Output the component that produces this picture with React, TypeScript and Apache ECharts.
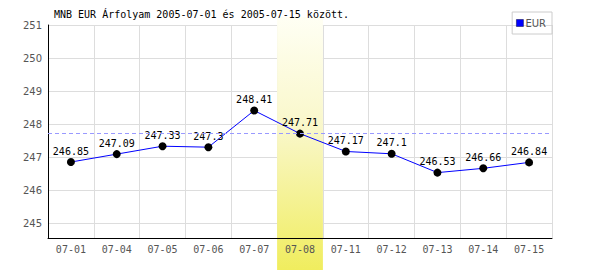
import React, { useEffect, useRef } from "react";
import * as echarts from "echarts";

const categories = ["07-01", "07-04", "07-05", "07-06", "07-07", "07-08", "07-11", "07-12", "07-13", "07-14", "07-15"];
const eurValues = [246.85, 247.09, 247.33, 247.3, 248.41, 247.71, 247.17, 247.1, 246.53, 246.66, 246.84];
const yTicks = [245, 246, 247, 248, 249, 250, 251];
const selectedIndex = 5;
const titleText = "MNB EUR Árfolyam 2005-07-01 és 2005-07-15 között.";

export default function App() {
  const ref = useRef<HTMLDivElement>(null);
  useEffect(() => {
    if (!ref.current) return;
    const chart = echarts.init(ref.current, null, { renderer: "svg" });
    const mono = "DejaVu Sans Mono";
    chart.setOption({
      animation: false,
      backgroundColor: "#ffffff",
      title: {
        text: titleText,
        left: 54,
        top: 9,
        padding: 0,
        textStyle: { fontFamily: mono, fontSize: 10, fontWeight: "normal", color: "#000" },
      },
      legend: {
        right: 48,
        top: 12,
        orient: "vertical",
        padding: [6, 6, 6, 4],
        borderColor: "#cccccc",
        borderWidth: 1,
        icon: "rect",
        itemWidth: 7,
        itemHeight: 7,
        itemGap: 0,
        textStyle: { fontFamily: "DejaVu Sans", fontSize: 10, color: "#555", padding: [0, 0, 0, -3] },
        data: [{ name: "EUR", itemStyle: { color: "#0000ff", borderColor: "#000044", borderWidth: 0.5 } }],
      },
      grid: { left: 48, right: 48, top: 25, bottom: 32 },
      xAxis: [
        {
          type: "category",
          data: categories,
          boundaryGap: true,
          z: 0,
          axisLine: { show: false },
          axisTick: { show: false },
          axisLabel: { show: false },
          splitLine: { show: true, lineStyle: { color: "#dddddd", width: 1 } },
        },
        {
          type: "category",
          data: categories,
          boundaryGap: true,
          position: "bottom",
          z: 4,
          axisLine: { show: true, lineStyle: { color: "#000", width: 1 } },
          axisTick: { show: false },
          axisLabel: { show: true, fontFamily: mono, fontSize: 10, color: "#555", margin: 6 },
          splitLine: { show: false },
        },
      ],
      yAxis: {
        type: "value",
        min: 244.55,
        max: 251,
        z: 0,
        axisLine: { show: true, lineStyle: { color: "#000", width: 1 } },
        axisTick: { show: false, customValues: yTicks },
        axisLabel: { fontFamily: "DejaVu Sans", fontSize: 10, color: "#555", margin: 6, customValues: yTicks },
        splitLine: { show: true, lineStyle: { color: "#dddddd", width: 1 } },
      },
      series: [
        {
          name: "ref",
          type: "line",
          data: [],
          z: 1,
          silent: true,
          markLine: {
            symbol: "none",
            silent: true,
            label: { show: false },
            lineStyle: { color: "#9999ff", type: [4, 3], width: 1 },
            data: [{ yAxis: eurValues[selectedIndex] }],
          },
        },
        {
          name: "EUR",
          type: "line",
          data: eurValues,
          z: 3,
          symbol: "circle",
          symbolSize: 8,
          itemStyle: { color: "#000" },
          lineStyle: { color: "#0000ff", width: 1 },
          label: {
            show: true,
            position: "top",
            distance: 2,
            fontFamily: mono,
            fontSize: 10,
            color: "#000",
          },
        },
      ],
    });
    const x0 = chart.convertToPixel({ xAxisIndex: 0 }, selectedIndex) as number;
    const x1 = chart.convertToPixel({ xAxisIndex: 0 }, selectedIndex + 1) as number;
    const bw = x1 - x0;
    chart.setOption({
      graphic: [
        {
          type: "rect",
          z: 2,
          silent: true,
          shape: { x: x0 - bw / 2, y: 17, width: bw, height: 270 - 17 },
          style: {
            fill: new echarts.graphic.LinearGradient(0, 0, 0, 1, [
              { offset: 0, color: "#fffff4" },
              { offset: 0.45, color: "#f9f7c8" },
              { offset: 1, color: "#f0ed5e" },
            ]),
          },
        },
      ],
    });
    return () => chart.dispose();
  }, []);
  return <div ref={ref} style={{ width: 600, height: 270, position: "absolute", left: 0, top: 0 }} />;
}
